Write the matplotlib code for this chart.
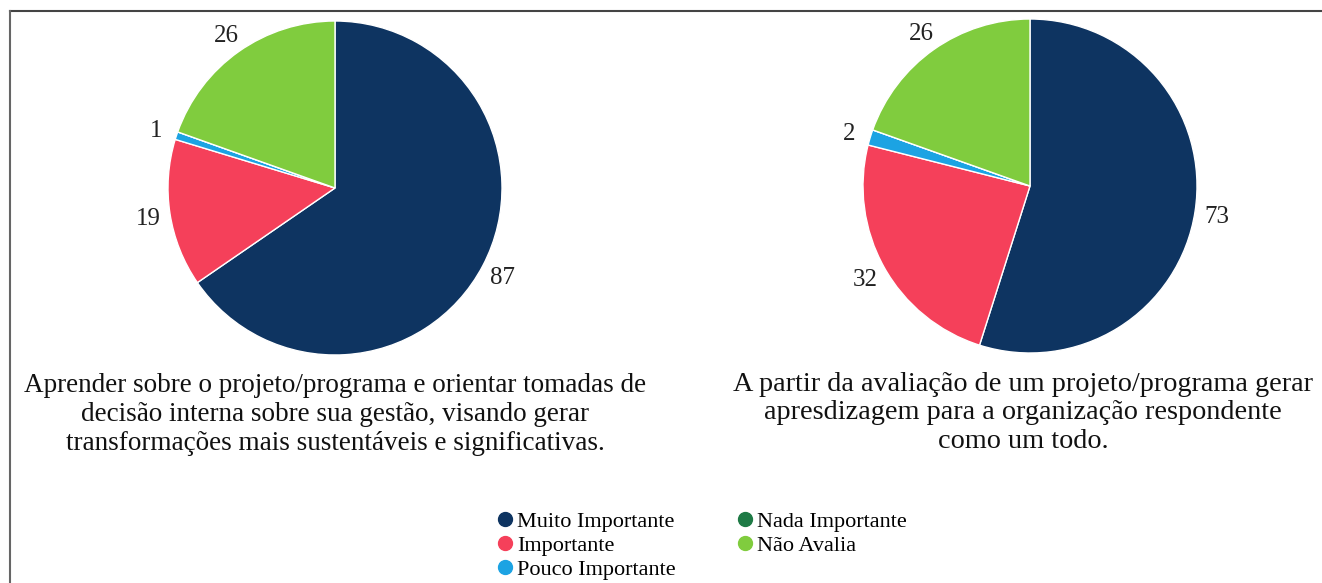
import matplotlib
matplotlib.use("Agg")
import matplotlib.pyplot as plt
from matplotlib.lines import Line2D

plt.rcParams['font.family'] = ['Liberation Serif', 'DejaVu Serif']

categories = ["Muito Importante", "Importante", "Pouco Importante", "Nada Importante", "Não Avalia"]
colors = ["#0E3461", "#F5405A", "#1CA3E3", "#1E7A45", "#80CC3E"]
values_left = [87, 19, 1, 0, 26]
values_right = [73, 32, 2, 0, 26]
caption_left = ("Aprender sobre o projeto/programa e orientar tomadas de\n"
                "decisão interna sobre sua gestão, visando gerar\n"
                "transformações mais sustentáveis e significativas.")
caption_right = ("A partir da avaliação de um projeto/programa gerar\n"
                 "apresdizagem para a organização respondente\n"
                 "como um todo.")

W, H = 1322, 583
fig = plt.figure(figsize=(W / 100, H / 100), dpi=100)

def px_axes(cx, cy, r):
    return fig.add_axes([(cx - r) / W, 1 - (cy + r) / H, 2 * r / W, 2 * r / H])

def draw_pie(ax, vals):
    labels = [str(v) if v else "" for v in vals]
    wedges, texts = ax.pie(vals, colors=colors, startangle=90, counterclock=False,
                           labels=labels, labeldistance=1.13,
                           wedgeprops=dict(edgecolor="white", linewidth=1.0),
                           textprops=dict(fontsize=18, color="#222222"))
    for t in texts:
        t.set_ha("center")
        t.set_va("center_baseline")
    ax.set_xlim(-1, 1)
    ax.set_ylim(-1, 1)
    ax.set_aspect("equal")
    ax.axis("off")

ax1 = px_axes(335, 188, 167)
draw_pie(ax1, values_left)
ax2 = px_axes(1030, 186, 167)
draw_pie(ax2, values_right)

fig.text(335 / W, 1 - 373 / H, caption_left, ha="center", va="top",
         fontsize=19.5, linespacing=1.22, color="#111111")
fig.text(1023 / W, 1 - 372 / H, caption_right, ha="center", va="top",
         fontsize=20.3, linespacing=1.18, color="#111111")

handles = [Line2D([], [], marker="o", linestyle="none", markersize=10,
                  markerfacecolor=c, markeredgecolor=c) for c in colors]
fig.legend(handles, categories, ncol=2, loc="upper left",
           bbox_to_anchor=(496 / W, 1 - 511 / H), frameon=False,
           fontsize=16, handletextpad=0.15, handlelength=0.8,
           columnspacing=2.7, labelspacing=0.17, borderaxespad=0, borderpad=0)

# frame lines
fig.add_artist(Line2D([10 / W, 1.0], [1 - 11 / H, 1 - 11 / H], color="#444444", linewidth=1.5))
fig.add_artist(Line2D([10 / W, 10 / W], [0, 1 - 11 / H], color="#666666", linewidth=1.5))

fig.savefig("out.png", dpi=100)
